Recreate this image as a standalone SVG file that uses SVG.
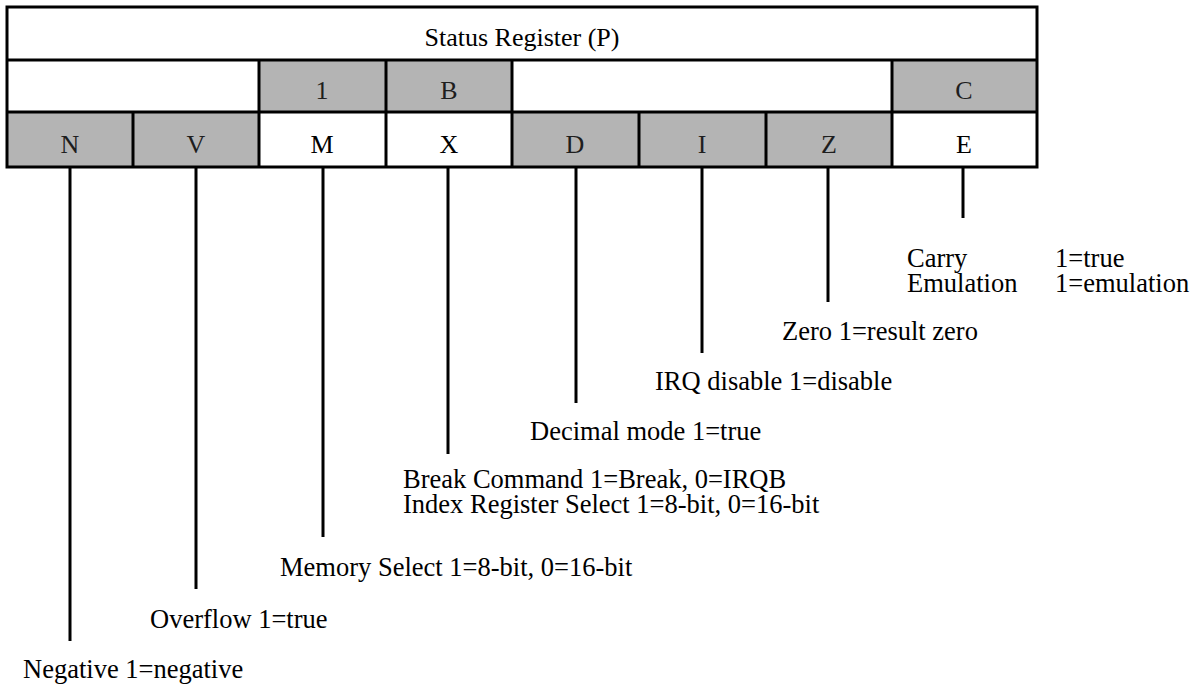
<svg xmlns="http://www.w3.org/2000/svg" width="1203" height="684" viewBox="0 0 1203 684">
<style>
.t{font-family:"Liberation Serif","Times New Roman",serif;font-size:26.5px;fill:#000}
.h{font-family:"Liberation Serif","Times New Roman",serif;font-size:26px;fill:#000;text-anchor:middle}
.hg{fill:#1e1e1e}
.g{fill:#b4b4b4}
.w{fill:#fff}
.b{stroke:#000;stroke-width:3;fill:none}
.l{stroke:#000;stroke-width:3}
</style>
<rect x="0" y="0" width="1203" height="684" fill="#fff"/>
<g id="register">
<rect class="w" x="7" y="7" width="1030" height="160"/>
<g id="row2">
<rect class="g" x="259" y="60" width="127" height="52"/>
<rect class="g" x="386" y="60" width="126" height="52"/>
<rect class="g" x="892" y="60" width="145" height="52"/>
</g>
<g id="row3">
<rect class="g" x="7" y="112" width="126" height="55"/>
<rect class="g" x="133" y="112" width="126" height="55"/>
<rect class="g" x="512" y="112" width="127" height="55"/>
<rect class="g" x="639" y="112" width="127" height="55"/>
<rect class="g" x="766" y="112" width="126" height="55"/>
</g>
<rect class="b" x="7" y="7" width="1030" height="160"/>
<line class="l" x1="7" y1="60" x2="1037" y2="60"/>
<line class="l" x1="7" y1="112" x2="1037" y2="112"/>
<line class="l" x1="259" y1="60" x2="259" y2="167"/>
<line class="l" x1="386" y1="60" x2="386" y2="167"/>
<line class="l" x1="512" y1="60" x2="512" y2="167"/>
<line class="l" x1="892" y1="60" x2="892" y2="167"/>
<line class="l" x1="133" y1="112" x2="133" y2="167"/>
<line class="l" x1="639" y1="112" x2="639" y2="167"/>
<line class="l" x1="766" y1="112" x2="766" y2="167"/>
<text class="h" x="522" y="46">Status Register (P)</text>
<text class="h hg" x="322" y="99">1</text>
<text class="h hg" x="449" y="99">B</text>
<text class="h hg" x="964" y="99">C</text>
<text class="h hg" x="70" y="153">N</text>
<text class="h hg" x="196" y="153">V</text>
<text class="h" x="322" y="153">M</text>
<text class="h" x="449" y="153">X</text>
<text class="h hg" x="575" y="153">D</text>
<text class="h hg" x="702" y="153">I</text>
<text class="h hg" x="829" y="153">Z</text>
<text class="h" x="964" y="153">E</text>
</g>
<g id="connectors">
<line class="l" x1="70" y1="167" x2="70" y2="641"/>
<line class="l" x1="196" y1="167" x2="196" y2="589"/>
<line class="l" x1="323" y1="167" x2="323" y2="537"/>
<line class="l" x1="448" y1="167" x2="448" y2="454"/>
<line class="l" x1="576" y1="167" x2="576" y2="403"/>
<line class="l" x1="702" y1="167" x2="702" y2="353"/>
<line class="l" x1="828" y1="167" x2="828" y2="302"/>
<line class="l" x1="963" y1="167" x2="963" y2="218"/>
</g>
<g id="label-C">
<text class="t" x="907" y="267">Carry</text>
<text class="t" x="1055" y="267">1=true</text>
<text class="t" x="907" y="292">Emulation</text>
<text class="t" x="1055" y="292">1=emulation</text>
</g>
<g id="label-Z"><text class="t" x="782" y="340">Zero 1=result zero</text></g>
<g id="label-I"><text class="t" x="655" y="390">IRQ disable 1=disable</text></g>
<g id="label-D"><text class="t" x="530" y="440">Decimal mode 1=true</text></g>
<g id="label-X">
<text class="t" x="403" y="488">Break Command 1=Break, 0=IRQB</text>
<text class="t" x="403" y="513">Index Register Select 1=8-bit, 0=16-bit</text>
</g>
<g id="label-M"><text class="t" x="280" y="576">Memory Select 1=8-bit, 0=16-bit</text></g>
<g id="label-V"><text class="t" x="150" y="628">Overflow 1=true</text></g>
<g id="label-N"><text class="t" x="23" y="678">Negative 1=negative</text></g>
</svg>
